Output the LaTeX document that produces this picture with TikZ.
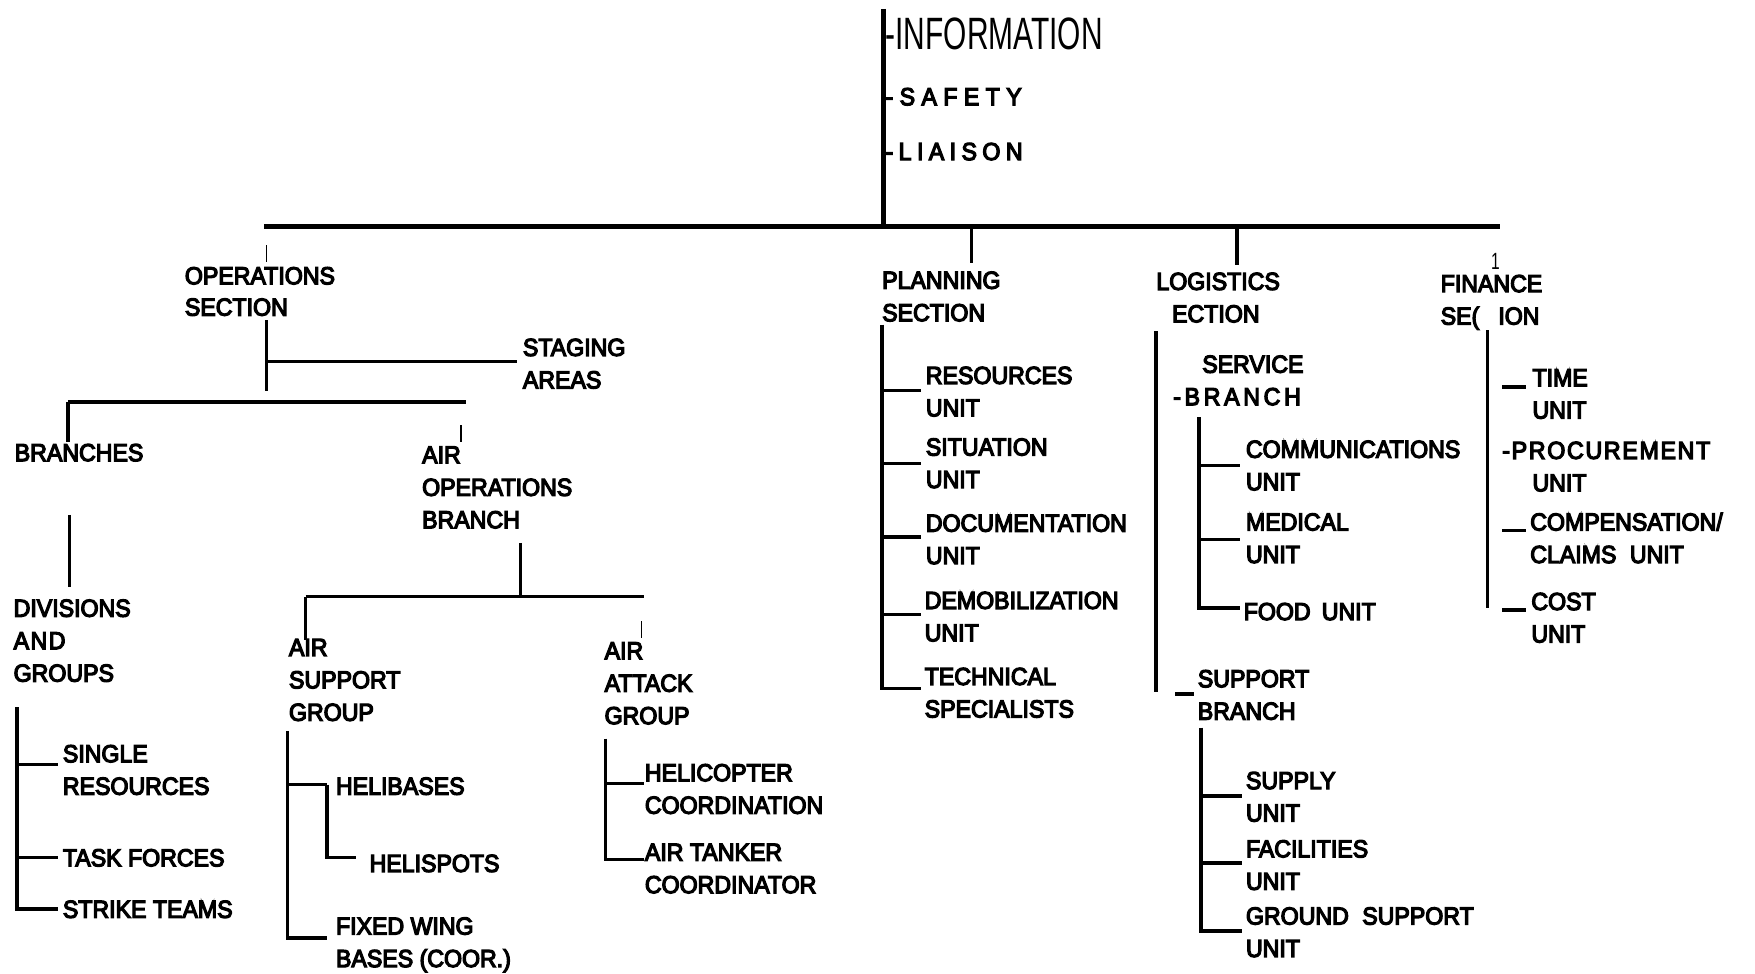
\documentclass[tikz,border=0pt]{standalone}
\usepackage{fontspec}
\setmainfont{Liberation Sans}[FakeStretch=0.94,FakeBold=5]
\newfontfamily\infofont{Liberation Sans}[FakeStretch=0.66]
\newcommand{\tracked}[2]{{\addfontfeatures{LetterSpace=#1}#2}}
\usetikzlibrary{positioning}

\begin{document}
\begin{tikzpicture}
        [x=1pt,y=-1pt,line join=miter,
         lbl/.style={anchor=base west,align=left,inner sep=0pt,font=\fontsize{22}{29}\selectfont},
         trunk/.style={line width=4.5pt},
         link/.style={line width=3.2pt},
         tick/.style={line width=1.5pt}]
        \useasboundingbox (0,0) rectangle (1568,870);

        % command staff
        \node[lbl,font=\infofont\fontsize{40.5}{40}\selectfont] (info) at (791,44.5) {-INFORMATION};
        \node[lbl] (safety) at (791,94) {\tracked{26}{-SAFETY}};
        \node[lbl] (liaison) at (791,143) {\tracked{22}{-LIAISON}};

        % operations (node base = last line)
        \node[lbl,font=\fontsize{22}{28}\selectfont] (ops) at (165,282) {OPERATIONS\\SECTION};
        \node[lbl] (staging) at (467,347) {STAGING\\AREAS};
        \node[lbl] (branches) at (13,412) {BRANCHES};
        \node[lbl] (airops) at (377,472) {AIR\\OPERATIONS\\BRANCH};
        \node[lbl] (divs) at (12,609) {DIVISIONS\\\tracked{6}{AND}\\GROUPS};
        \node[lbl] (single) at (56,710) {SINGLE\\RESOURCES};
        \node[lbl] (task) at (56,774) {TASK FORCES};
        \node[lbl] (strike) at (56,820) {STRIKE TEAMS};
        \node[lbl] (airsup) at (258,644) {AIR\\SUPPORT\\GROUP};
        \node[lbl] (airatt) at (540,647) {AIR\\ATTACK\\GROUP};
        \node[lbl] (helibases) at (300,710) {HELIBASES};
        \node[lbl] (helispots) at (330,779) {HELISPOTS};
        \node[lbl] (fixedwing) at (300,864) {FIXED WING\\BASES (COOR.)};
        \node[lbl] (helico) at (576,727) {HELICOPTER\\COORDINATION};
        \node[lbl] (tanker) at (576,798) {AIR TANKER\\COORDINATOR};

        % planning
        \node[lbl] (planning) at (788,287) {PLANNING\\SECTION};
        \node[lbl] (resources) at (827,372) {RESOURCES\\UNIT};
        \node[lbl] (situation) at (827,436) {SITUATION\\UNIT};
        \node[lbl] (documentation) at (827,504) {DOCUMENTATION\\UNIT};
        \node[lbl] (demob) at (826,573) {DEMOBILIZATION\\UNIT};
        \node[lbl] (technical) at (826,641) {TECHNICAL\\SPECIALISTS};

        % logistics
        \node[lbl] (logistics) at (1033,288) {LOGISTICS\\\hspace*{14pt}ECTION};
        \node[lbl] (service) at (1048,362) {\hspace*{26pt}SERVICE\\\tracked{15}{-BRANCH}};
        \node[lbl] (comms) at (1113,438) {COMMUNICATIONS\\UNIT};
        \node[lbl] (medical) at (1113,503) {MEDICAL\\UNIT};
        \node[lbl] (food) at (1111,554) {FOOD\hspace{10pt}UNIT};
        \node[lbl] (support) at (1070,643) {SUPPORT\\BRANCH};
        \node[lbl] (supply) at (1113,734) {SUPPLY\\UNIT};
        \node[lbl] (facilities) at (1113,795) {FACILITIES\\UNIT};
        \node[lbl] (ground) at (1113,855) {GROUND\hspace{12pt}SUPPORT\\UNIT};

        % finance
        \node[lbl,anchor=base,font=\infofont\fontsize{21}{21}\selectfont] (one) at (1336,241) {1};
        \node[lbl] (finance) at (1287,290) {FINANCE\\SE(\hspace{17pt}ION};
        \node[lbl] (time) at (1369,374) {TIME\\UNIT};
        \node[lbl] (procure) at (1342,439) {\tracked{7}{-PROCUREMENT}\\\hspace*{27pt}UNIT};
        \node[lbl] (comp) at (1367,503) {COMPENSATION/\\CLAIMS\hspace{12pt}UNIT};
        \node[lbl] (cost) at (1368,574) {COST\\UNIT};

        % line ends
        \coordinate (top) at (789,8);
        \coordinate (hub) at (789,202);
        \coordinate (hl) at (236,202);
        \coordinate (hr) at (1340,202);
        \coordinate (pst) at (868,202);
        \coordinate (psb) at (868,235);
        \coordinate (lst) at (1105,202);
        \coordinate (lsb) at (1105,237);

        \coordinate (opst) at (238,219);
        \coordinate (opsb) at (238,234);
        \coordinate (ov1) at (238,286);
        \coordinate (ov2) at (238,349);
        \coordinate (stj) at (238,323);
        \coordinate (ste) at (462,323);
        \coordinate (bl) at (61,359);
        \coordinate (br) at (416,359);
        \coordinate (bt) at (61,395);
        \coordinate (at1) at (412,380);
        \coordinate (at2) at (412,395);
        \coordinate (dv1) at (62,460);
        \coordinate (dv2) at (62,524);
        \coordinate (av1) at (465,485);
        \coordinate (av2) at (465,533);
        \coordinate (gl) at (273,533);
        \coordinate (gr) at (575,533);
        \coordinate (gt) at (273,572);
        \coordinate (kt1) at (573,555);
        \coordinate (kt2) at (573,570);

        \coordinate (d0) at (15,632);
        \coordinate (d1) at (15,683);
        \coordinate (d1e) at (52,683);
        \coordinate (d2) at (15,766);
        \coordinate (d2e) at (52,766);
        \coordinate (d3) at (15,812);
        \coordinate (d3e) at (52,812);

        \coordinate (s0) at (257,653);
        \coordinate (s1) at (257,701);
        \coordinate (s1e) at (292,701);
        \coordinate (s3) at (292,766);
        \coordinate (s3e) at (318,766);
        \coordinate (s2) at (257,838);
        \coordinate (s2e) at (292,838);

        \coordinate (k0) at (541,660);
        \coordinate (k1) at (541,700);
        \coordinate (k1e) at (575,700);
        \coordinate (k2) at (541,768);
        \coordinate (k2e) at (575,768);

        \coordinate (p0) at (788,290);
        \coordinate (p1) at (788,349);
        \coordinate (p1e) at (823,349);
        \coordinate (p2) at (788,414);
        \coordinate (p2e) at (823,414);
        \coordinate (p3) at (788,480);
        \coordinate (p3e) at (823,480);
        \coordinate (p4) at (788,549);
        \coordinate (p4e) at (823,549);
        \coordinate (p5) at (788,615);
        \coordinate (p5e) at (823,615);

        \coordinate (l0) at (1033,296);
        \coordinate (l1) at (1033,618);
        \coordinate (v0) at (1071,373);
        \coordinate (v1) at (1071,416);
        \coordinate (v1e) at (1108,416);
        \coordinate (v2) at (1071,482);
        \coordinate (v2e) at (1108,482);
        \coordinate (v3) at (1071,543);
        \coordinate (v3e) at (1108,543);
        \coordinate (sd1) at (1050,620);
        \coordinate (sd2) at (1067,620);
        \coordinate (u0) at (1073,650);
        \coordinate (u1) at (1073,711);
        \coordinate (u1e) at (1110,711);
        \coordinate (u2) at (1073,771);
        \coordinate (u2e) at (1110,771);
        \coordinate (u3) at (1073,832);
        \coordinate (u3e) at (1110,832);

        \coordinate (f0) at (1329,295);
        \coordinate (f1) at (1329,543);
        \coordinate (t1) at (1342,346);
        \coordinate (t1e) at (1363,346);
        \coordinate (c1) at (1342,474);
        \coordinate (c1e) at (1363,474);
        \coordinate (o1) at (1342,545);
        \coordinate (o1e) at (1363,545);

        \foreach \from/\to in {top/hub, hl/hr}
            \draw[trunk] (\from) -- (\to);

        \foreach \from/\to in {pst/psb, lst/lsb, ov1/ov2, stj/ste, bl/br, bl/bt,
        dv1/dv2, av1/av2, gl/gr, gl/gt, d1/d1e, d2/d2e, s1/s1e, k1/k1e,
        p1/p1e, p2/p2e, p3/p3e, p4/p4e, l0/l1, v1/v1e, v2/v2e, sd1/sd2,
        u1/u1e, u2/u2e, f0/f1, t1/t1e, c1/c1e, o1/o1e}
            \draw[link] (\from) -- (\to);

        \foreach \from/\via/\to in {d0/d3/d3e, s0/s2/s2e, s1e/s3/s3e, k0/k2/k2e,
        p0/p5/p5e, v0/v3/v3e, u0/u3/u3e}
            \draw[link] (\from) -- (\via) -- (\to);

        \foreach \from/\to in {opst/opsb, at1/at2, kt1/kt2}
            \draw[tick] (\from) -- (\to);

      \end{tikzpicture}
\end{document}
